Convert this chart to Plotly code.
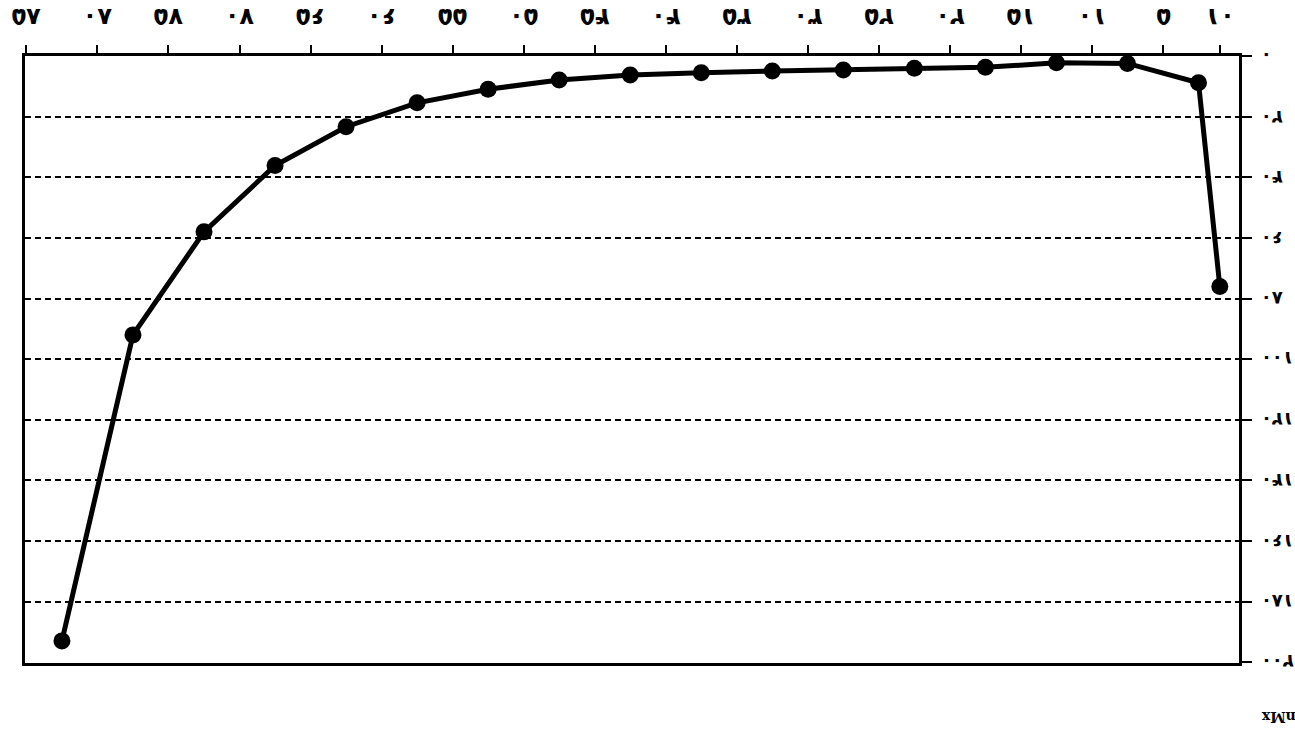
import plotly.graph_objects as go

# Data read from the (upside-down) reference chart
ages = [1, 2.5, 7.5, 12.5, 17.5, 22.5, 27.5, 32.5, 37.5, 42.5, 47.5,
        52.5, 57.5, 62.5, 67.5, 72.5, 77.5, 82.5]
rates = [76, 8.8, 2.4, 2.2, 3.7, 4.0, 4.6, 4.9, 5.5, 6.2, 7.9,
         10.9, 15.4, 23.3, 36.1, 58, 92, 193]

x_tick_vals = [1, 5, 10, 15, 20, 25, 30, 35, 40, 45, 50, 55, 60, 65, 70, 75, 80, 85]
x_tick_text = ["۰۱", "۵", "۱۰", "۱۵", "۲۰", "۲۵", "۳۰", "۳۵", "۴۰", "۴۵",
               "۵۰", "۵۵", "۶۰", "۶۵", "۷۰", "۷۵", "۸۰", "۸۵"]
y_tick_vals = [0, 20, 40, 60, 80, 100, 120, 140, 160, 180, 200]
y_tick_text = ["۰", "۲۰", "۴۰", "۶۰", "۸۰", "۱۰۰", "۱۲۰", "۱۴۰", "۱۶۰", "۱۸۰", "۲۰۰"]
y_title = "nMx"

fig = go.Figure()
fig.add_trace(go.Scatter(
    x=ages, y=rates, mode="lines+markers",
    line=dict(color="black", width=5),
    marker=dict(color="black", size=17),
    showlegend=False, cliponaxis=False,
))

fig.update_xaxes(
    side="top", range=[85.1, -0.35], automargin=False,
    tickvals=x_tick_vals, showticklabels=False,
    ticks="outside", ticklen=8, tickwidth=2, tickcolor="black",
    showline=True, linecolor="black", linewidth=2.5, mirror=True,
    showgrid=False, zeroline=False,
)
fig.update_yaxes(
    side="right", range=[200.3, -0.05], automargin=False,
    tickvals=y_tick_vals, showticklabels=False,
    ticks="outside", ticklen=10, tickwidth=2, tickcolor="black",
    showline=True, linecolor="black", linewidth=2.5, mirror=True,
    showgrid=True, gridcolor="black", gridwidth=2, griddash="6px,4px",
    zeroline=False,
)

x_label_font = dict(family="DejaVu Sans", size=24, color="black", weight="bold")
y_label_font = dict(family="DejaVu Sans", size=18, color="black", weight="bold")

# Tick labels, upside-down like the scanned reference
for v, t in zip(x_tick_vals, x_tick_text):
    fig.add_annotation(text=t, x=v, xref="x", y=1.0905, yref="paper",
                       showarrow=False, textangle=180, font=x_label_font,
                       xanchor="center", yanchor="top")
for v, t in zip(y_tick_vals, y_tick_text):
    fig.add_annotation(text=t, x=1.016, xref="paper", y=v, yref="y",
                       showarrow=False, textangle=180, font=y_label_font,
                       xanchor="left", yanchor="middle")

fig.add_annotation(
    text=y_title, xref="paper", yref="paper", x=1.016, y=-0.09,
    showarrow=False, textangle=180, xanchor="left", yanchor="middle",
    font=dict(family="DejaVu Serif", size=14, color="black", weight="bold"),
)

fig.update_layout(
    width=1295, height=735,
    margin=dict(l=25, r=56, t=56, b=72),
    paper_bgcolor="white", plot_bgcolor="white",
)

fig.write_html(
    "out.html",
    config={"displayModeBar": False},
    post_script="document.body.style.margin='0px'; document.body.style.overflow='hidden';",
)
